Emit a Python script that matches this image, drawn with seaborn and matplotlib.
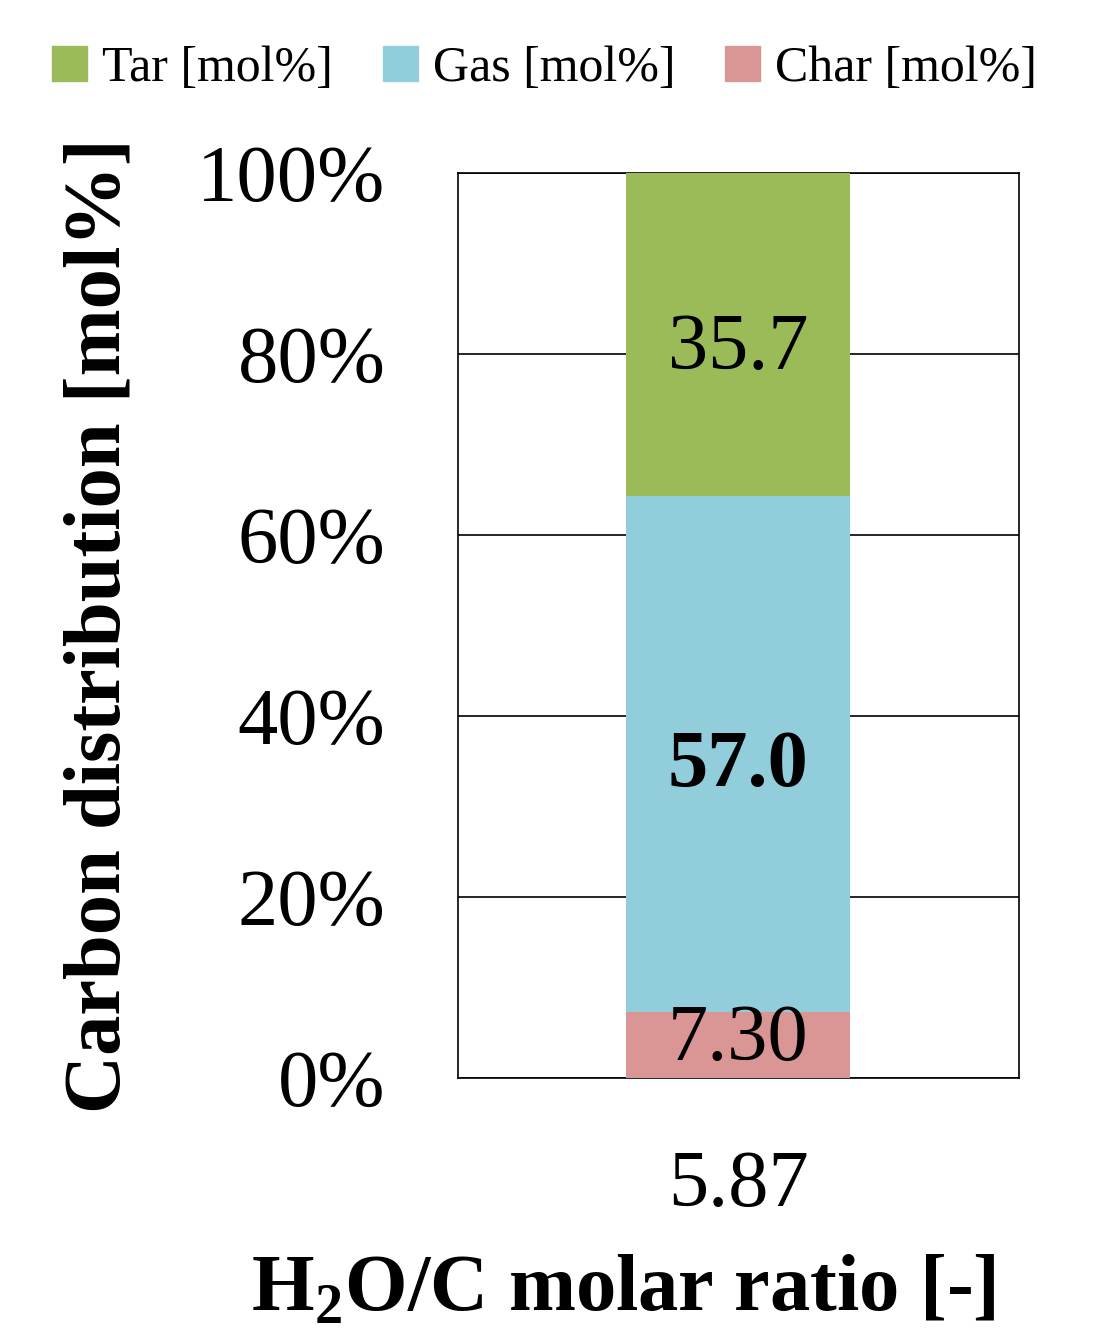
import numpy as np
import pandas as pd
import seaborn as sns
import matplotlib.pyplot as plt
from matplotlib.patches import Patch

# values
ratio_labels = ["5.87"]
char_vals = [7.30]
gas_vals = [57.0]
tar_vals = [35.7]
series_names = ["Tar [mol%]", "Gas [mol%]", "Char [mol%]"]
series_colors = ["#9BBB59", "#92CDDC", "#D99694"]
y_ticks = [0, 20, 40, 60, 80, 100]

sns.set_style("white")
plt.rcParams["font.family"] = ["Liberation Serif", "DejaVu Serif"]
plt.rcParams["mathtext.fontset"] = "custom"
plt.rcParams["mathtext.rm"] = "Liberation Serif"
plt.rcParams["mathtext.bf"] = "Liberation Serif:bold"
for k in ["text.color", "axes.labelcolor", "xtick.color", "ytick.color"]:
    plt.rcParams[k] = "black"

fig = plt.figure(figsize=(11, 13.39), dpi=100)
ax = fig.add_axes([0.416, 0.195, 0.510, 0.676])

dt = pd.DataFrame({"ratio": ratio_labels, "char": char_vals, "gas": gas_vals, "tar": tar_vals})
gas_bottom = dt["char"].to_numpy()
tar_bottom = (dt["char"] + dt["gas"]).to_numpy()

bar_kw = dict(x="ratio", width=0.4, saturation=1, ax=ax, zorder=3, linewidth=0, edgecolor="none")
sns.barplot(data=dt, y="char", color=series_colors[2], **bar_kw)
sns.barplot(data=dt, y="gas", bottom=gas_bottom, color=series_colors[1], **bar_kw)
sns.barplot(data=dt, y="tar", bottom=tar_bottom, color=series_colors[0], **bar_kw)

fmt_list = [lambda v: f"{v:.2f}", lambda v: f"{v:.1f}", lambda v: f"{v:.1f}"]
weights = ["normal", "bold", "normal"]
shifts = [3, -9, -11]  # points, Excel puts labels a bit off-centre
for cont, fmt, w, sh in zip(ax.containers, fmt_list, weights, shifts):
    anns = ax.bar_label(cont, labels=[fmt(v) for v in cont.datavalues], label_type="center",
                        fontsize=58, fontweight=w, color="black")
    for a in anns:
        a.xyann = (0, sh)

ax.set_ylim(0, 100)
ax.set_xlim(-0.5, 0.5)
ax.set_yticks(y_ticks)
ax.set_yticklabels([f"{t}%" for t in y_ticks])
ax.yaxis.grid(True, color="black", linewidth=1.2, zorder=0)
ax.set_axisbelow(True)
ax.tick_params(axis="y", length=0, pad=52, labelsize=58)
ax.tick_params(axis="x", length=0, pad=52, labelsize=58)
for s in ax.spines.values():
    s.set_color("black")
    s.set_linewidth(1.2)

ax.set_ylabel("Carbon distribution [mol%]", fontsize=58, fontweight="bold", labelpad=44)
ax.set_xlabel("")
fig.text(0.567, 0.036, r"H$_\mathbf{2}$O/C molar ratio [-]", fontsize=58,
         fontweight="bold", ha="center", va="center")

handles = [Patch(color=c, label=n) for c, n in zip(series_colors, series_names)]
fig.legend(handles=handles, loc="upper center", bbox_to_anchor=(0.495, 1.0), ncol=3,
           frameon=False, fontsize=36, handlelength=0.7, handleheight=0.7,
           handletextpad=0.3, columnspacing=1.0)

plt.savefig("out.png", dpi=100)
